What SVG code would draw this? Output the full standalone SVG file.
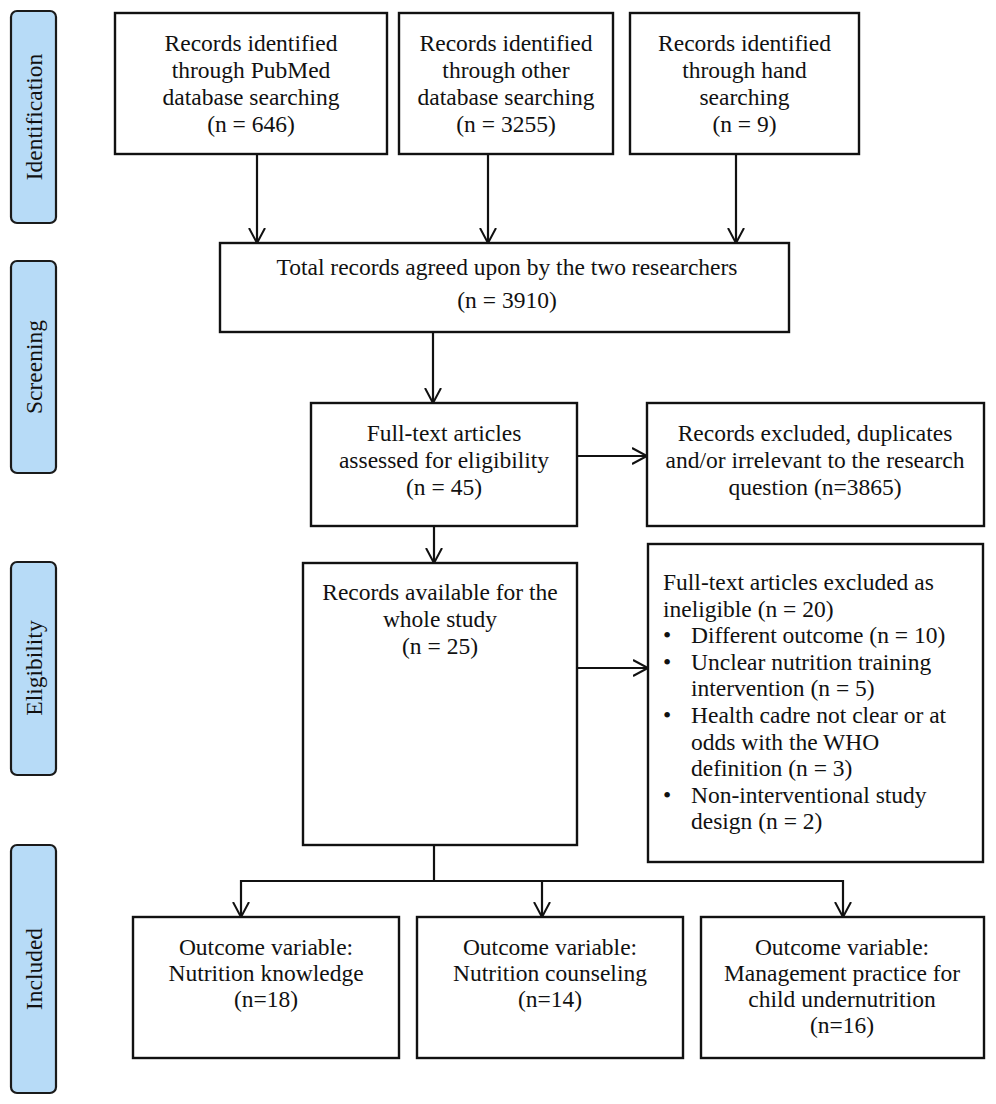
<svg xmlns="http://www.w3.org/2000/svg" width="996" height="1104" viewBox="0 0 996 1104">
<style>
text{font-family:"Liberation Serif","Times New Roman",serif;font-size:23.5px;fill:#111}
.c{text-anchor:middle}
.box{fill:#fff;stroke:#111;stroke-width:2.4}
.side{fill:#b7dbf7;stroke:#1a1a1a;stroke-width:2.2}
.ln{fill:none;stroke:#111;stroke-width:2.2}
</style>
<defs>
<marker id="arr" markerUnits="userSpaceOnUse" markerWidth="18" markerHeight="20" refX="15" refY="9" orient="auto">
<path d="M0,1 L15,9 L0,17" fill="none" stroke="#111" stroke-width="2"/>
</marker>
</defs>
<rect width="996" height="1104" fill="#fff"/>

<g id="lbl-identification"><rect class="side" x="11" y="11" width="45" height="212" rx="6"/><text class="c" transform="translate(42,117) rotate(-90)">Identification</text></g>
<g id="lbl-screening"><rect class="side" x="11" y="261" width="45" height="212" rx="6"/><text class="c" transform="translate(42,367) rotate(-90)">Screening</text></g>
<g id="lbl-eligibility"><rect class="side" x="11" y="562" width="45" height="213" rx="6"/><text class="c" transform="translate(42,668) rotate(-90)">Eligibility</text></g>
<g id="lbl-included"><rect class="side" x="11" y="845" width="45" height="248" rx="6"/><text class="c" transform="translate(42,969) rotate(-90)">Included</text></g>

<g id="connectors">
<line class="ln" x1="257" y1="154" x2="257" y2="243" marker-end="url(#arr)"/>
<line class="ln" x1="488" y1="154" x2="488" y2="243" marker-end="url(#arr)"/>
<line class="ln" x1="736" y1="154" x2="736" y2="243" marker-end="url(#arr)"/>
<line class="ln" x1="433" y1="332" x2="433" y2="403" marker-end="url(#arr)"/>
<line class="ln" x1="577" y1="456" x2="647" y2="456" marker-end="url(#arr)"/>
<line class="ln" x1="434" y1="526" x2="434" y2="563" marker-end="url(#arr)"/>
<line class="ln" x1="577" y1="668" x2="648" y2="668" marker-end="url(#arr)"/>
<polyline class="ln" points="434,845 434,881"/>
<polyline class="ln" points="241,881 843,881"/>
<line class="ln" x1="241" y1="880" x2="241" y2="917" marker-end="url(#arr)"/>
<line class="ln" x1="542" y1="881" x2="542" y2="917" marker-end="url(#arr)"/>
<line class="ln" x1="843" y1="880" x2="843" y2="917" marker-end="url(#arr)"/>
</g>

<g id="n-pubmed"><rect class="box" x="115" y="13" width="272" height="141"/>
<text class="c" x="251" y="51">Records identified</text>
<text class="c" x="251" y="78">through PubMed</text>
<text class="c" x="251" y="105">database searching</text>
<text class="c" x="251" y="132">(n = 646)</text></g>

<g id="n-other"><rect class="box" x="399" y="13" width="214" height="141"/>
<text class="c" x="506" y="51">Records identified</text>
<text class="c" x="506" y="78">through other</text>
<text class="c" x="506" y="105">database searching</text>
<text class="c" x="506" y="132">(n = 3255)</text></g>

<g id="n-hand"><rect class="box" x="630" y="13" width="229" height="141"/>
<text class="c" x="744.5" y="51">Records identified</text>
<text class="c" x="744.5" y="78">through hand</text>
<text class="c" x="744.5" y="105">searching</text>
<text class="c" x="744.5" y="132">(n = 9)</text></g>

<g id="n-total"><rect class="box" x="220" y="243" width="569" height="89"/>
<text class="c" x="507" y="275">Total records agreed upon by the two researchers</text>
<text class="c" x="507" y="308">(n = 3910)</text></g>

<g id="n-fulltext"><rect class="box" x="311" y="403" width="266" height="123"/>
<text class="c" x="444" y="441">Full-text articles</text>
<text class="c" x="444" y="468">assessed for eligibility</text>
<text class="c" x="444" y="495">(n = 45)</text></g>

<g id="n-excluded"><rect class="box" x="647" y="403" width="337" height="123"/>
<text class="c" x="815" y="441">Records excluded, duplicates</text>
<text class="c" x="815" y="468">and/or irrelevant to the research</text>
<text class="c" x="815" y="495">question (n=3865)</text></g>

<g id="n-available"><rect class="box" x="303" y="563" width="274" height="282"/>
<text class="c" x="440" y="600">Records available for the</text>
<text class="c" x="440" y="627">whole study</text>
<text class="c" x="440" y="654">(n = 25)</text></g>

<g id="n-ineligible"><rect class="box" x="648" y="544" width="335" height="318"/>
<text x="663" y="590">Full-text articles excluded as</text>
<text x="663" y="616.6">ineligible (n = 20)</text>
<text x="663" y="643.2">•</text><text x="691" y="643.2">Different outcome (n = 10)</text>
<text x="663" y="669.8">•</text><text x="691" y="669.8">Unclear nutrition training</text>
<text x="691" y="696.4">intervention (n = 5)</text>
<text x="663" y="723">•</text><text x="691" y="723">Health cadre not clear or at</text>
<text x="691" y="749.6">odds with the WHO</text>
<text x="691" y="776.2">definition (n = 3)</text>
<text x="663" y="802.8">•</text><text x="691" y="802.8">Non-interventional study</text>
<text x="691" y="829.4">design (n = 2)</text></g>

<g id="n-knowledge"><rect class="box" x="133" y="917" width="266" height="141"/>
<text class="c" x="266" y="955">Outcome variable:</text>
<text class="c" x="266" y="981">Nutrition knowledge</text>
<text class="c" x="266" y="1007">(n=18)</text></g>

<g id="n-counseling"><rect class="box" x="417" y="917" width="266" height="141"/>
<text class="c" x="550" y="955">Outcome variable:</text>
<text class="c" x="550" y="981">Nutrition counseling</text>
<text class="c" x="550" y="1007">(n=14)</text></g>

<g id="n-management"><rect class="box" x="701" y="917" width="283" height="141"/>
<text class="c" x="842" y="955">Outcome variable:</text>
<text class="c" x="842" y="981">Management practice for</text>
<text class="c" x="842" y="1007">child undernutrition</text>
<text class="c" x="842" y="1033">(n=16)</text></g>
</svg>
